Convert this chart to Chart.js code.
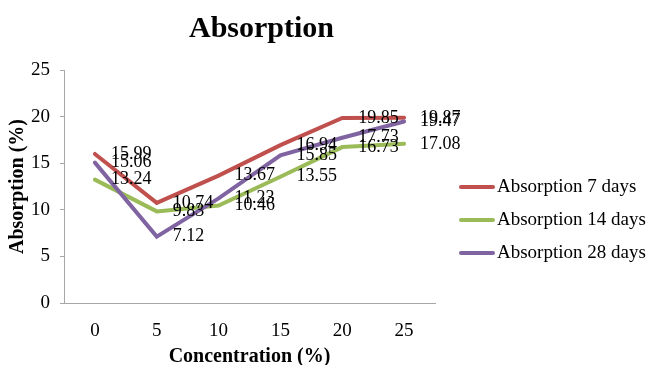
<!DOCTYPE html>
<html>
<head>
<meta charset="utf-8">
<script src="https://cdn.jsdelivr.net/npm/chart.js@4.4.1/dist/chart.umd.min.js"></script>
<style>
  html, body { margin: 0; padding: 0; background: #ffffff; }
  #wrap { width: 649px; height: 365px; }
</style>
</head>
<body>
<div id="wrap"><canvas id="chart" width="649" height="365"></canvas></div>
<script>
// Concentration levels (%) on the x axis
const concentrations = ['0', '5', '10', '15', '20', '25'];

// Water absorption (%) after each curing period
const absorption7 = [15.99, 10.74, 13.67, 16.94, 19.85, 19.87];
const absorption14 = [13.24, 9.83, 10.46, 13.55, 16.73, 17.08];
const absorption28 = [15.06, 7.12, 11.23, 15.85, 17.73, 19.47];

const seriesNames = ['Absorption 7 days', 'Absorption 14 days', 'Absorption 28 days'];
const yTickValues = [0, 5, 10, 15, 20, 25];
const chartTitle = 'Absorption';

const SERIF = '"Liberation Serif", "Times New Roman", serif';
const AXIS_GRAY = '#a6a6a6';

// Writes each point's value just to the right of the point
const valueLabels = {
  id: 'valueLabels',
  afterDatasetsDraw(chart) {
    const ctx = chart.ctx;
    ctx.save();
    ctx.font = '18px ' + SERIF;
    ctx.fillStyle = '#000000';
    ctx.textAlign = 'left';
    ctx.textBaseline = 'middle';
    chart.data.datasets.forEach((ds, i) => {
      const meta = chart.getDatasetMeta(i);
      meta.data.forEach((pt, j) => {
        ctx.fillText(ds.data[j].toFixed(2), pt.x + 16, pt.y);
      });
    });
    ctx.restore();
  }
};

// Title centred over the plot and legend block, and a line-swatch legend
// sitting in the right-hand margin, vertically centred on the plot
const titleAndLegend = {
  id: 'titleAndLegend',
  afterDraw(chart) {
    const { ctx, chartArea } = chart;
    const legendX = chartArea.right + 24;
    ctx.save();
    ctx.fillStyle = '#000000';
    ctx.font = 'bold 30px ' + SERIF;
    ctx.textAlign = 'center';
    ctx.textBaseline = 'middle';
    ctx.fillText(chartTitle, (chartArea.left + legendX) / 2, 29);

    ctx.font = '19px ' + SERIF;
    ctx.textAlign = 'left';
    const firstRow = (chartArea.top + chartArea.bottom) / 2 + 0.5;
    chart.data.datasets.forEach((ds, i) => {
      const y = firstRow + i * 33;
      ctx.strokeStyle = ds.borderColor;
      ctx.lineWidth = 4;
      ctx.lineCap = 'round';
      ctx.beginPath();
      ctx.moveTo(legendX + 2, y);
      ctx.lineTo(legendX + 34, y);
      ctx.stroke();
      ctx.fillText(ds.label, legendX + 38, y);
    });
    ctx.restore();
  }
};

function series(label, data, color, order) {
  return {
    label: label,
    data: data,
    borderColor: color,
    backgroundColor: color,
    borderWidth: 4,
    borderCapStyle: 'round',
    pointRadius: 0,
    pointHoverRadius: 0,
    tension: 0,
    fill: false,
    order: order
  };
}

new Chart(document.getElementById('chart'), {
  type: 'line',
  data: {
    labels: concentrations,
    datasets: [
      series(seriesNames[0], absorption7, '#c0504d', 3),
      series(seriesNames[1], absorption14, '#9bbb59', 2),
      series(seriesNames[2], absorption28, '#8064a2', 1)
    ]
  },
  options: {
    responsive: false,
    animation: false,
    devicePixelRatio: 1,
    layout: { padding: { top: 70, right: 214, bottom: 0, left: 0 } },
    plugins: {
      tooltip: { enabled: false },
      title: { display: false },
      legend: { display: false }
    },
    scales: {
      x: {
        type: 'category',
        offset: true,
        grid: { display: false, drawTicks: false },
        border: { display: true, color: AXIS_GRAY, width: 1 },
        ticks: { color: '#000000', font: { family: SERIF, size: 19 }, padding: 17 },
        title: {
          display: true,
          text: 'Concentration (%)',
          color: '#000000',
          font: { family: SERIF, size: 20, weight: 'bold', lineHeight: 0.8 },
          padding: 0
        },
        afterFit(scale) { scale.height = 62; }
      },
      y: {
        min: 0,
        max: 25,
        afterBuildTicks(scale) { scale.ticks = yTickValues.map(v => ({ value: v })); },
        grid: { drawOnChartArea: false, drawTicks: true, tickLength: 4, color: AXIS_GRAY },
        border: { display: true, color: AXIS_GRAY, width: 1 },
        ticks: { color: '#000000', font: { family: SERIF, size: 19 }, padding: 10 },
        title: {
          display: true,
          text: 'Absorption (%)',
          color: '#000000',
          font: { family: SERIF, size: 20, weight: 'bold' },
          padding: { top: 6, bottom: 4 }
        },
        afterFit(scale) { scale.width = 64; }
      }
    }
  },
  plugins: [valueLabels, titleAndLegend]
});
</script>
</body>
</html>
